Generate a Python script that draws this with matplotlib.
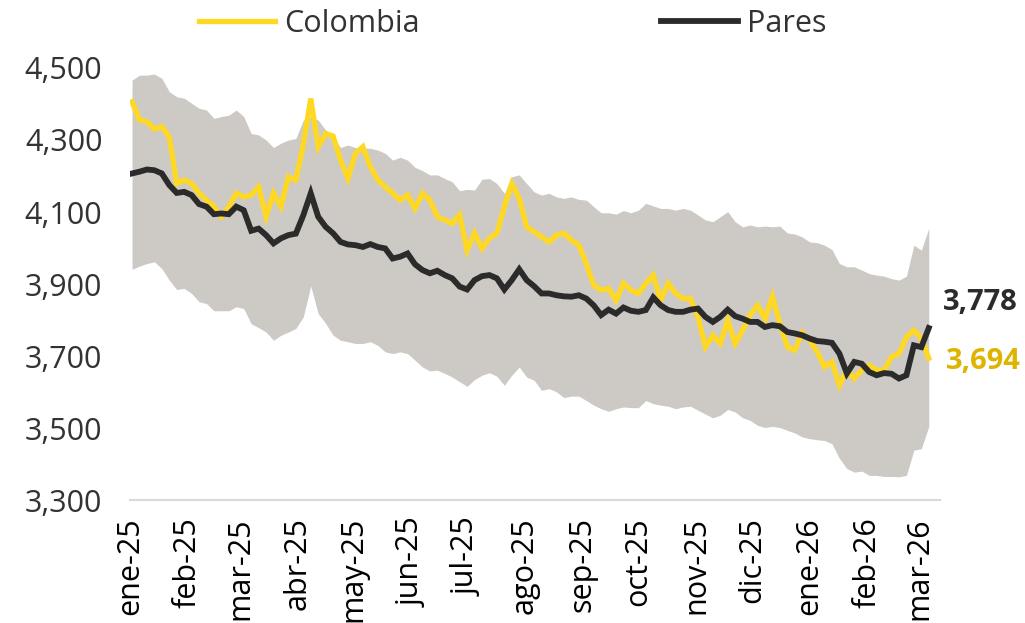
import matplotlib
matplotlib.use("Agg")
import matplotlib.pyplot as plt
import matplotlib.ticker as mticker
import matplotlib.transforms as mtransforms
import pandas as pd

# fechas de muestreo (cada 4 dias)
dates = pd.date_range("2025-01-02", periods=108, freq="4D")

band_max = [4466, 4480, 4480, 4483, 4471, 4434, 4420, 4416, 4402, 4388, 4383, 4360, 4365, 4369, 4383, 4365, 4318, 4314,
            4300, 4279, 4291, 4300, 4304, 4355, 4365, 4355, 4328,
            4309, 4279, 4286, 4279, 4277, 4277, 4272, 4263, 4244, 4252, 4244, 4224, 4215, 4203, 4203, 4193, 4184, 4159,
            4163, 4161, 4191, 4193, 4179, 4152, 4198, 4203, 4179,
            4156, 4147, 4152, 4142, 4138, 4142, 4135, 4133, 4115, 4098, 4098, 4094, 4104, 4098, 4105, 4124, 4117, 4110,
            4110, 4105, 4110, 4105, 4092, 4078, 4073, 4087, 4101,
            4073, 4059, 4064, 4059, 4061, 4059, 4061, 4042, 4039, 4031, 4017, 4015, 4008, 3996, 3957, 3948, 3948, 3939,
            3929, 3925, 3922, 3915, 3911, 3922, 4008, 3994, 4055]

band_min = [3941, 3950, 3957, 3962, 3943, 3911, 3885, 3888, 3874, 3851, 3846, 3826, 3826, 3826, 3837, 3832, 3790, 3779,
            3767, 3744, 3758, 3767, 3777, 3809, 3895, 3818, 3791,
            3758, 3744, 3740, 3735, 3735, 3740, 3730, 3712, 3707, 3712, 3707, 3689, 3670, 3659, 3661, 3652, 3642, 3629,
            3616, 3635, 3647, 3654, 3644, 3619, 3647, 3670, 3642,
            3633, 3605, 3610, 3601, 3585, 3589, 3589, 3577, 3564, 3554, 3547, 3554, 3559, 3557, 3557, 3577, 3568, 3564,
            3561, 3554, 3559, 3561, 3550, 3539, 3529, 3536, 3552,
            3545, 3529, 3522, 3508, 3502, 3505, 3502, 3494, 3487, 3476, 3471, 3468, 3466, 3457, 3416, 3388, 3378, 3381,
            3369, 3369, 3366, 3366, 3365, 3369, 3439, 3443, 3505]

colombia = [4406, 4355, 4351, 4330, 4337, 4309, 4179, 4189, 4179, 4152, 4133, 4115, 4087, 4115, 4152, 4142, 4147, 4170,
            4087, 4152, 4115, 4198, 4189, 4286, 4415, 4281, 4318,
            4311, 4244, 4193, 4263, 4281, 4226, 4189, 4170, 4152, 4133, 4147, 4110, 4152, 4133, 4087, 4078, 4068, 4092,
            3994, 4041, 3999, 4027, 4041, 4115, 4179, 4138, 4059,
            4045, 4031, 4017, 4036, 4041, 4022, 4008, 3957, 3897, 3883, 3888, 3855, 3902, 3883, 3874, 3902, 3925, 3855,
            3902, 3874, 3860, 3860, 3809, 3726, 3758, 3735, 3800,
            3735, 3772, 3814, 3841, 3804, 3865, 3791, 3726, 3716, 3765, 3744, 3712, 3670, 3684, 3619, 3661, 3638, 3661,
            3675, 3661, 3661, 3698, 3707, 3753, 3772, 3749, 3694]

pares = [4207, 4212, 4218, 4216, 4207, 4175, 4153, 4156, 4147, 4122, 4115, 4094, 4096, 4094, 4115, 4105, 4048, 4054,
         4036, 4013, 4027, 4036, 4040, 4091, 4152, 4087, 4059,
         4041, 4017, 4010, 4008, 4003, 4011, 4003, 3999, 3971, 3976, 3985, 3955, 3939, 3930, 3937, 3925, 3916, 3893,
         3885, 3911, 3922, 3925, 3916, 3885, 3911, 3941, 3911,
         3894, 3874, 3874, 3869, 3866, 3865, 3869, 3860, 3841, 3814, 3829, 3818, 3835, 3826, 3823, 3828, 3863, 3841,
         3828, 3823, 3823, 3829, 3832, 3809, 3795, 3809, 3829,
         3811, 3804, 3795, 3795, 3781, 3786, 3783, 3767, 3763, 3758, 3749, 3742, 3740, 3737, 3707, 3652, 3684, 3679,
         3656, 3647, 3653, 3651, 3638, 3647, 3730, 3725, 3778]

month_labels = ["ene-25", "feb-25", "mar-25", "abr-25", "may-25", "jun-25", "jul-25", "ago-25",
                "sep-25", "oct-25", "nov-25", "dic-25", "ene-26", "feb-26", "mar-26"]
month_ticks = pd.date_range("2025-01-01", periods=len(month_labels), freq="MS")

YELLOW = "#FFD823"
BLACK = "#2B2B2B"
GREY = "#CDCAC6"
TXT = "#333333"

plt.rcParams["font.family"] = ["Open Sans", "DejaVu Sans"]

fig = plt.figure(figsize=(10.25, 6.23), dpi=100)
ax = fig.add_axes([0.127, 0.197, 0.79, 0.694])

ax.fill_between(dates, band_min, band_max, color=GREY, lw=0, zorder=1)
ax.plot(dates, colombia, color=YELLOW, lw=3.8, label="Colombia", zorder=2, solid_joinstyle="miter")
ax.plot(dates, pares, color=BLACK, lw=4.2, label="Pares", zorder=3, solid_joinstyle="miter")

ax.set_ylim(3300, 4500)
ax.set_yticks(range(3300, 4501, 200))
ax.yaxis.set_major_formatter(mticker.FuncFormatter(lambda v, p: f"{int(v):,}"))
ax.set_xlim(pd.Timestamp("2025-01-01"), pd.Timestamp("2026-03-12"))
ax.set_xticks(month_ticks)
ax.set_xticklabels(month_labels, rotation=90)

ax.tick_params(axis="y", length=0, pad=20, labelsize=22, labelcolor=TXT)
ax.tick_params(axis="x", length=0, pad=12, labelsize=22, labelcolor="black")
for s in ["top", "right", "left"]:
    ax.spines[s].set_visible(False)
ax.spines["bottom"].set_color("#D9D9D9")
ax.spines["bottom"].set_linewidth(1.5)

# etiquetas del ultimo dato
trans = mtransforms.blended_transform_factory(ax.transAxes, ax.transData)
ax.text(1.004, pares[-1] + 72, f"{pares[-1]:,}", transform=trans, ha="left", va="center",
        fontsize=21, fontweight="bold", color=BLACK, clip_on=False)
ax.text(1.008, colombia[-1] - 8, f"{colombia[-1]:,}", transform=trans, ha="left", va="center",
        fontsize=21, fontweight="bold", color="#DDB400", clip_on=False)

fig.legend(loc="center", bbox_to_anchor=(0.500, 0.962), ncol=2, frameon=False, fontsize=22,
           handlelength=2.5, handletextpad=0.3, columnspacing=7.9, labelcolor=TXT)

fig.savefig("out.png", dpi=100)
